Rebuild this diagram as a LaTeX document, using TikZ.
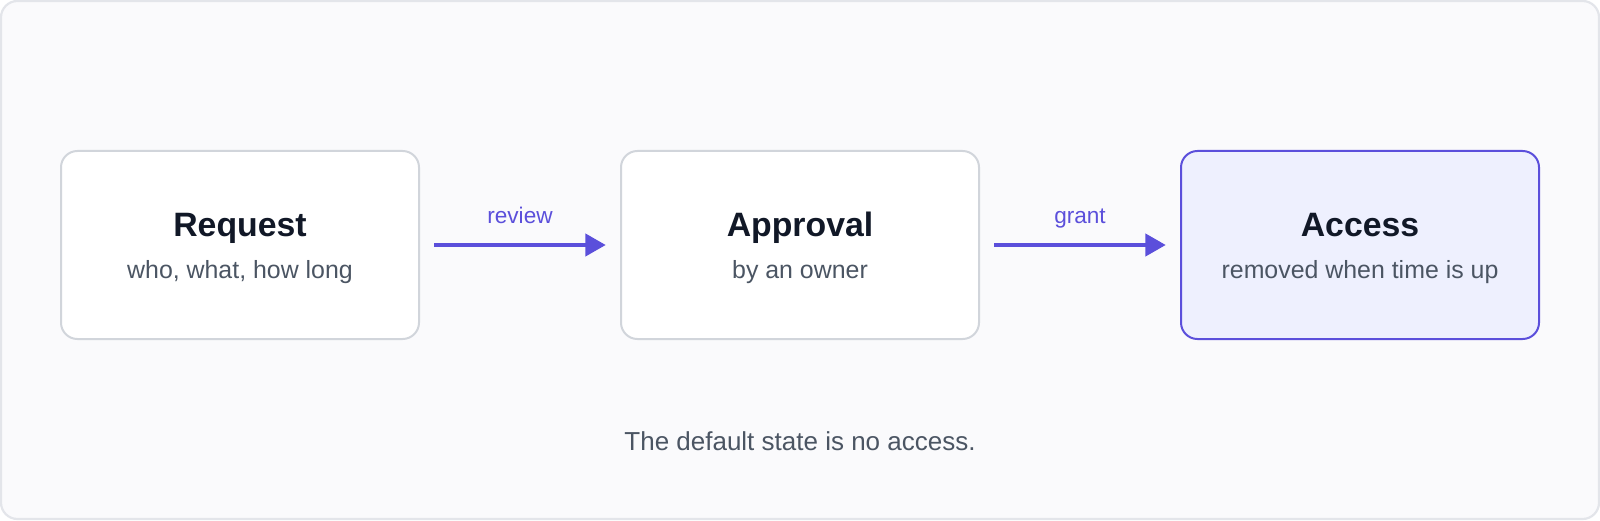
\documentclass[tikz,border=0pt]{standalone}
\usepackage{fontspec}
\setmainfont{Liberation Sans}
\usetikzlibrary{arrows.meta}
\definecolor{frameline}{HTML}{E3E5EA}
\definecolor{framefill}{HTML}{FAFAFC}
\definecolor{boxline}{HTML}{D1D5DB}
\definecolor{accent}{HTML}{5B4FDB}
\definecolor{accentfill}{HTML}{EEF0FE}
\definecolor{titletext}{HTML}{111827}
\definecolor{subtext}{HTML}{4B5563}
\tikzset{
	stagebox/.style={draw=boxline,fill=white,line width=1pt,rounded corners=8.2pt,minimum width=179pt,minimum height=94pt,outer sep=0pt},
	stagetitle/.style={anchor=base,text=titletext,font=\fontsize{16.9pt}{20pt}\selectfont\bfseries},
	stagenote/.style={anchor=base,text=subtext,font=\fontsize{12.45pt}{15pt}\selectfont},
	flow/.style={draw=accent,line width=1.53pt,-{Triangle[length=10.2pt,width=11.2pt]},shorten <=7.65pt,shorten >=7.65pt},
	flowlabel/.style={anchor=base,text=accent,font=\fontsize{11.3pt}{13pt}\selectfont}
}
\begin{document}
\begin{tikzpicture}[x=0.5pt,y=0.5pt]
	\useasboundingbox (0,0) rectangle (1600,520);
	\draw [frameline,fill=framefill,line width=1.1pt,rounded corners=8.2pt] (1,1) rectangle (1599,519);
	\node[stagebox] (request) at (240,275) {};
	\node[stagebox] (approval) at (800,275) {};
	\node[stagebox,draw=accent,fill=accentfill] (access) at (1360,275) {};
	\node[stagetitle] (requestTitle) at ([yshift=4pt]request.center) {Request};
	\node[stagenote] (requestNote) at ([yshift=-16.5pt]request.center) {who, what, how long};
	\node[stagetitle] (approvalTitle) at ([yshift=4pt]approval.center) {Approval};
	\node[stagenote] (approvalNote) at ([yshift=-16.5pt]approval.center) {by an owner};
	\node[stagetitle] (accessTitle) at ([yshift=4pt]access.center) {Access};
	\node[stagenote] (accessNote) at ([yshift=-16.5pt]access.center) {removed when time is up};
	\draw [flow] (request) -- (approval) node[flowlabel,pos=0.5,yshift=10.8pt] (reviewLabel) {review};
	\draw [flow] (approval) -- (access) node[flowlabel,pos=0.5,yshift=10.8pt] (grantLabel) {grant};
	\node[stagenote,font=\fontsize{13pt}{15pt}\selectfont] (footnote) at (800,70) {The default state is no access.};
\end{tikzpicture}
\end{document}
